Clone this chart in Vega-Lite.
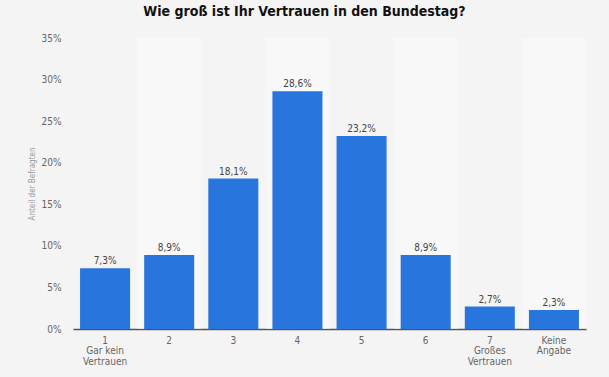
{
  "$schema": "https://vega.github.io/schema/vega-lite/v6.json",
  "width": 513,
  "height": 291,
  "autosize": "none",
  "padding": {"left": 73, "top": 38, "right": 23, "bottom": 48},
  "background": "#f4f4f4",
  "title": {
    "text": "Wie groß ist Ihr Vertrauen in den Bundestag?",
    "font": "DejaVu Sans Condensed, Liberation Sans Narrow, sans-serif",
    "fontSize": 14,
    "fontWeight": "bold",
    "color": "#111111",
    "anchor": "middle",
    "dx": -25,
    "offset": 14
  },
  "config": {
    "locale": {"number": {"decimal": ",", "thousands": ".", "grouping": [3], "currency": ["", " €"]}},
    "view": {"stroke": null},
    "font": "DejaVu Sans Condensed, Liberation Sans Narrow, sans-serif"
  },
  "data": {
    "values": [
      {"cat": "1", "value": 0.073, "band": 0},
      {"cat": "2", "value": 0.089, "band": 1},
      {"cat": "3", "value": 0.181, "band": 0},
      {"cat": "4", "value": 0.286, "band": 1},
      {"cat": "5", "value": 0.232, "band": 0},
      {"cat": "6", "value": 0.089, "band": 1},
      {"cat": "7", "value": 0.027, "band": 0},
      {"cat": "Keine Angabe", "value": 0.023, "band": 1}
    ]
  },
  "encoding": {
    "x": {
      "field": "cat",
      "type": "nominal",
      "sort": null,
      "scale": {"domain": ["1", "2", "3", "4", "5", "6", "7", "Keine Angabe"], "paddingInner": 0, "paddingOuter": 0},
      "axis": {
        "title": null,
        "labelAngle": 0,
        "labelFontSize": 10,
        "labelColor": "#666666",
        "labelPadding": 6,
        "labelLineHeight": 10.5,
        "ticks": false,
        "domainColor": "#555555",
        "domainWidth": 1.5,
        "labelExpr": "datum.value == '1' ? ['1','Gar kein','Vertrauen'] : datum.value == '7' ? ['7','Großes','Vertrauen'] : datum.value == 'Keine Angabe' ? ['Keine','Angabe'] : datum.value"
      }
    }
  },
  "layer": [
    {
      "transform": [{"filter": "datum.band == 1"}],
      "mark": {"type": "bar", "width": {"band": 1}, "color": "#ffffff", "opacity": 0.4},
      "encoding": {
        "y": {"datum": 0.35, "type": "quantitative"},
        "y2": {"datum": 0}
      }
    },
    {
      "mark": {"type": "bar", "width": {"band": 0.78}, "color": "#2775dd"},
      "encoding": {
        "y": {
          "field": "value",
          "type": "quantitative",
          "scale": {"domain": [0, 0.35]},
          "axis": {
            "title": "Anteil der Befragten",
            "titleFontSize": 8,
            "titleFontWeight": "normal",
            "titleColor": "#999999",
            "titlePadding": 5,
            "format": ".0%",
            "values": [0, 0.05, 0.1, 0.15, 0.2, 0.25, 0.3, 0.35],
            "labelFontSize": 10,
            "labelColor": "#666666",
            "labelPadding": 12,
            "ticks": false,
            "domain": false,
            "gridColor": "#dcdcdc",
            "gridWidth": 0.8
          }
        }
      }
    },
    {
      "mark": {"type": "text", "dy": -7, "fontSize": 10, "color": "#444444"},
      "encoding": {
        "y": {"field": "value", "type": "quantitative"},
        "text": {"field": "value", "type": "quantitative", "format": ".1%"}
      }
    }
  ]
}
